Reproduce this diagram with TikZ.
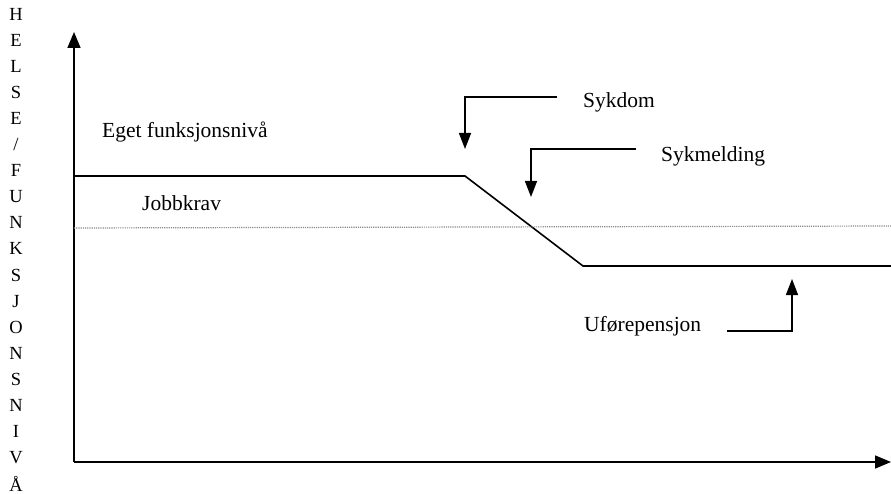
\documentclass[tikz,border=0pt]{standalone}
\usepackage{fontspec}
\setmainfont{Liberation Serif}
\usetikzlibrary{arrows.meta}
\begin{document}
\begin{tikzpicture}[x=1pt,y=-1pt,
  axis/.style={line width=1.6pt,-{Triangle[length=16pt,width=13pt]}},
  curve/.style={line width=1.6pt,line join=miter},
  demand/.style={line width=1.2pt,densely dotted,black!45},
  pointer/.style={line width=1.4pt,-{Triangle[length=16pt,width=12pt]}},
  lbl/.style={font=\fontsize{21.5}{24}\selectfont,inner sep=0pt,anchor=west},
  vlbl/.style={font=\fontsize{18.5}{20}\selectfont,inner sep=0pt}]
\useasboundingbox (0,0) rectangle (891,494);
\fill[white] (0,0) rectangle (891,494);

% axes
\coordinate (origin) at (74,462);
\coordinate (ytop) at (74,32);
\coordinate (xend) at (891,462);
\draw[axis] (origin) -- (ytop);
\draw[axis] (origin) -- (xend);

% vertical axis label, one letter per line
\foreach \ch [count=\i from 0] in {H,E,L,S,E,/,F,U,N,K,S,J,O,N,S,N,I,V,Å}
  \node[vlbl] (v\i) at (16,{14+\i*26.1}) {\ch};

% own functional level
\coordinate (f0) at (74,176);
\coordinate (f1) at (465,176);
\coordinate (f2) at (583,266);
\coordinate (f3) at (891,266);
\draw[curve] (f0) -- (f1) -- (f2) -- (f3);

% job demands
\coordinate (d0) at (74,228);
\coordinate (d1) at (891,226);
\draw[demand] (d0) -- (d1);

% labels
\node[lbl] (eget) at (102,132) {Eget funksjonsnivå};
\node[lbl] (jobb) at (142,203) {Jobbkrav};
\node[lbl] (sykdom) at (583,102) {Sykdom};
\node[lbl] (sykmeld) at (661,156) {Sykmelding};
\node[lbl] (ufore) at (584,326) {Uførepensjon};

% pointers
\coordinate (s0) at (557,97);
\coordinate (s1) at (465,97);
\coordinate (s2) at (465,149);
\draw[pointer] (s0) -- (s1) -- (s2);

\coordinate (m0) at (636,149);
\coordinate (m1) at (531,149);
\coordinate (m2) at (531,197);
\draw[pointer] (m0) -- (m1) -- (m2);

\coordinate (u0) at (727,331);
\coordinate (u1) at (792,331);
\coordinate (u2) at (792,279);
\draw[pointer] (u0) -- (u1) -- (u2);
\end{tikzpicture}
\end{document}
